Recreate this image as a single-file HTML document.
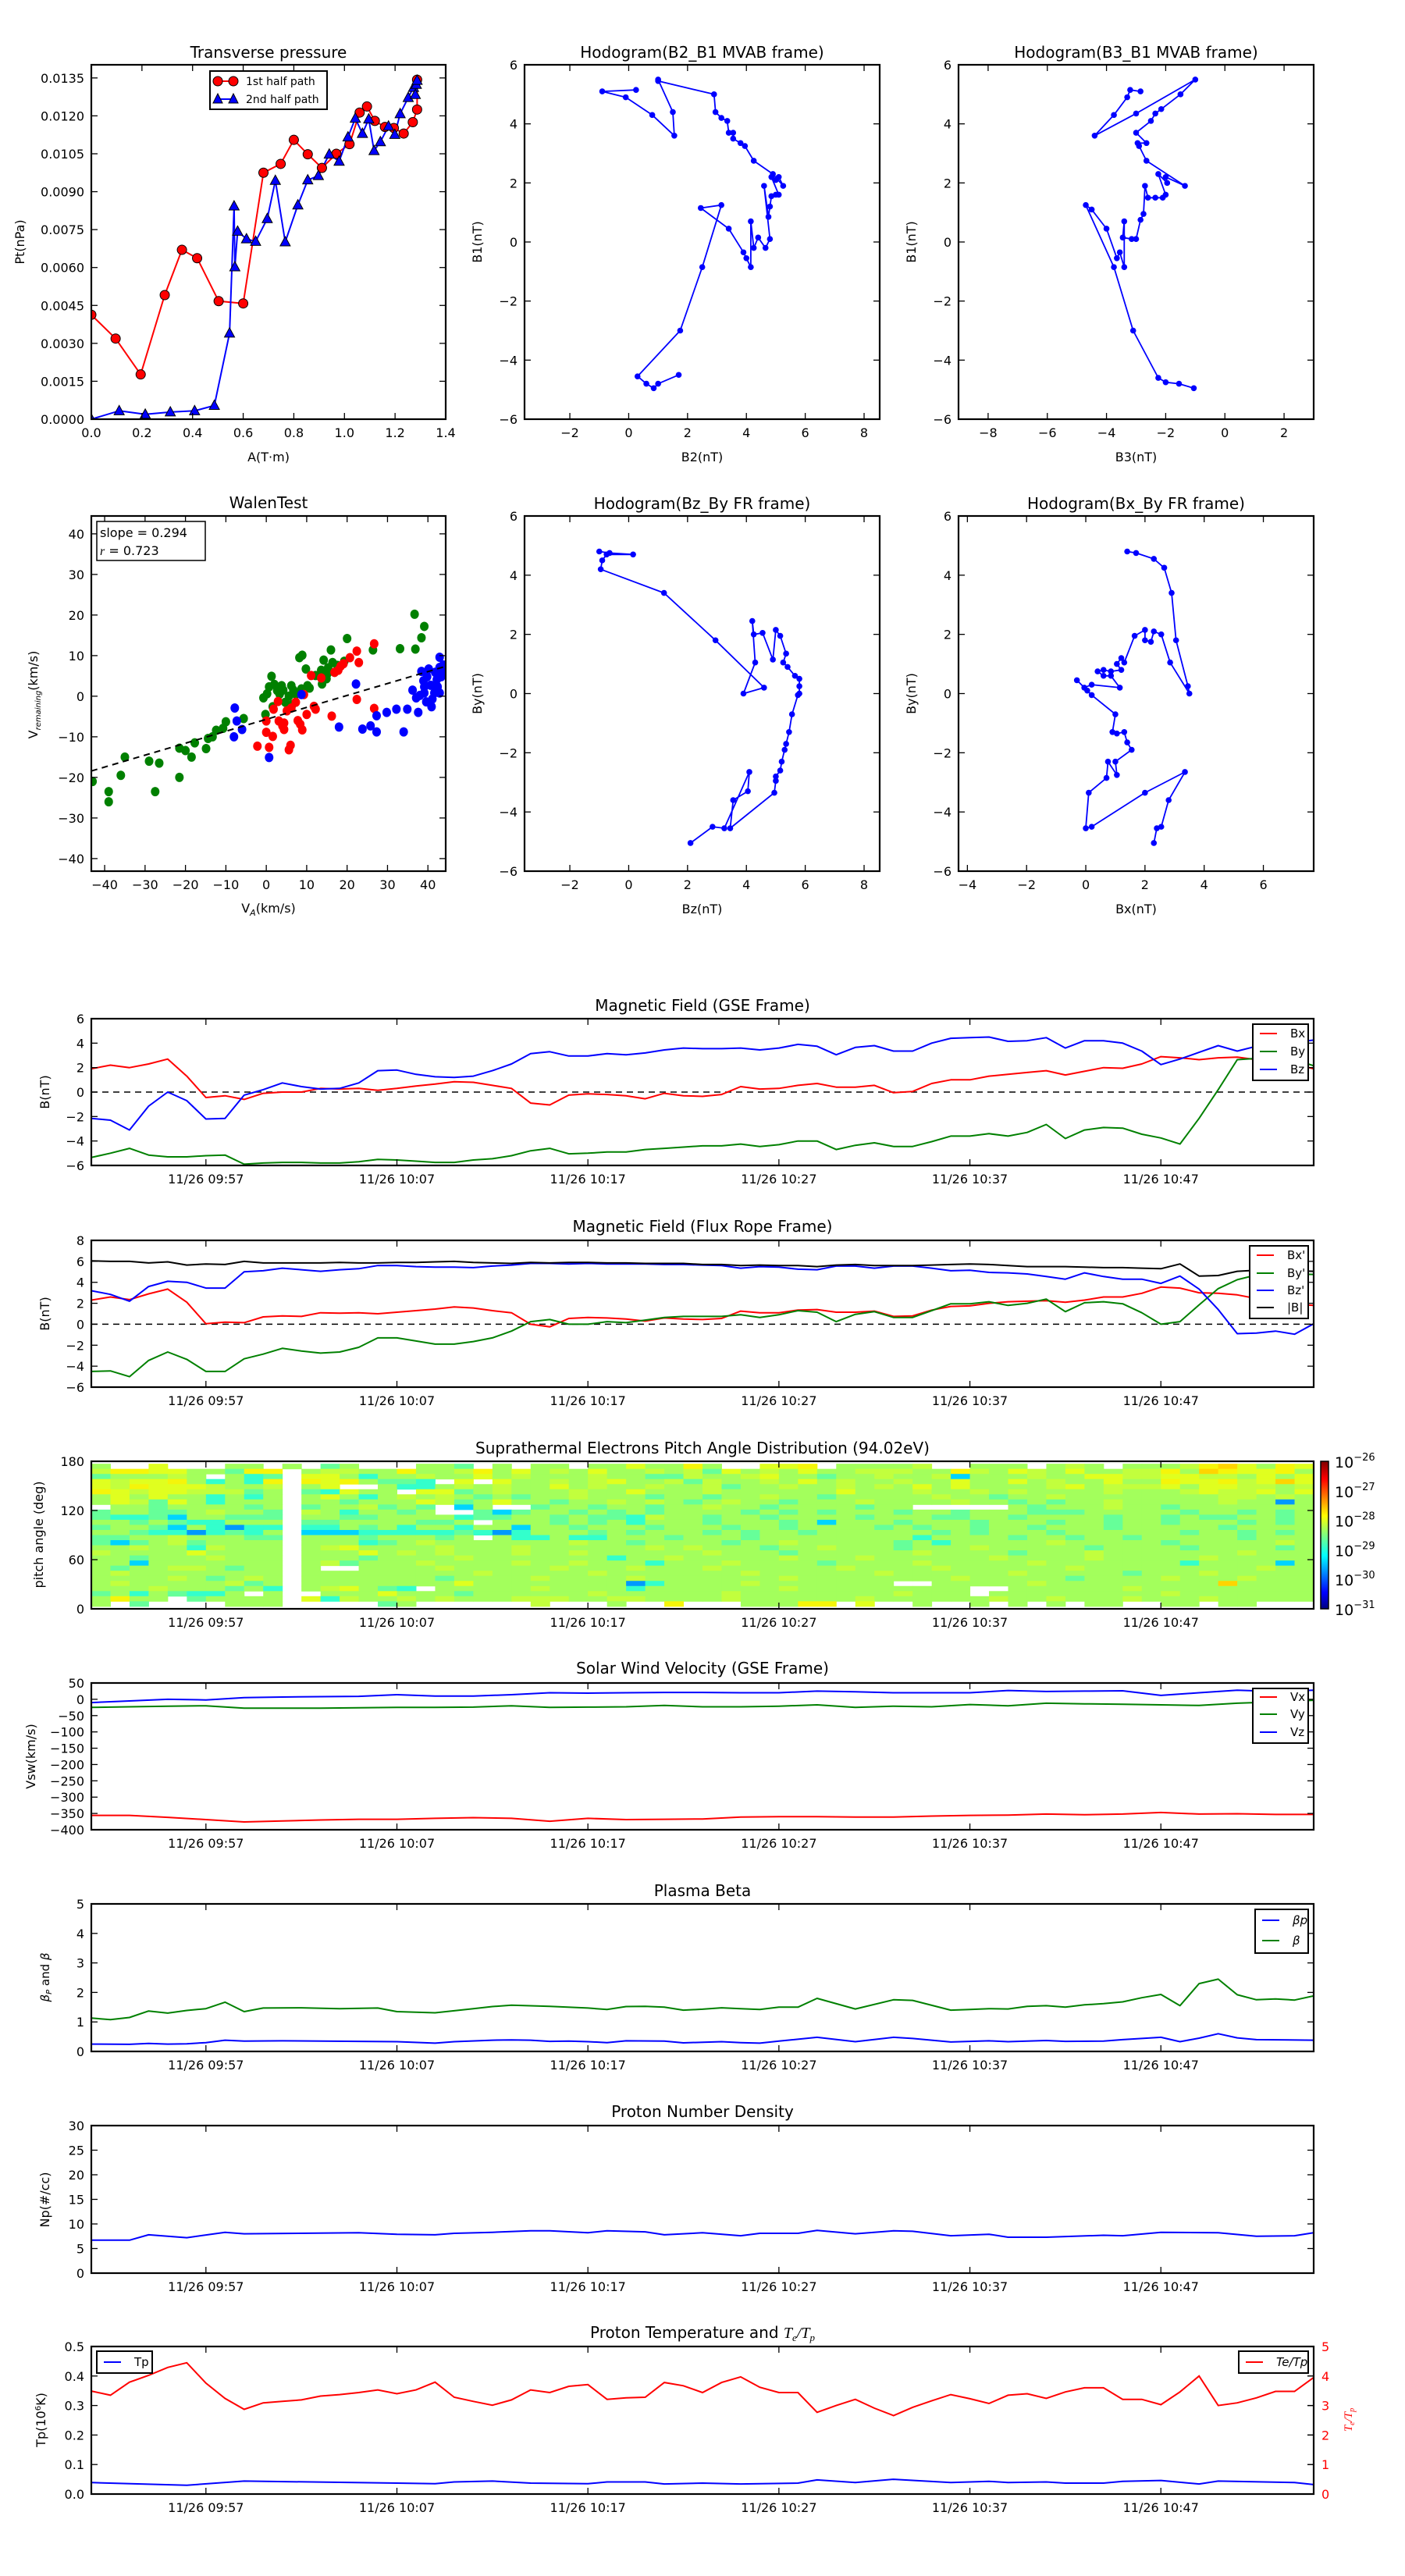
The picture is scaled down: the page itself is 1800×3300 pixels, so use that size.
<!DOCTYPE html>
<html><head><meta charset="utf-8">
<style>
html,body{margin:0;padding:0;background:#fff;}
svg{display:block;font-family:"DejaVu Sans","Liberation Sans",sans-serif;}
</style></head>
<body>
<svg id="fig" xmlns="http://www.w3.org/2000/svg" width="1800" height="3300" viewBox="0 0 1800 3300">
<rect x="0" y="0" width="1800" height="3300" fill="#fff"/>
</svg>
<script>
// ---------- data: transverse pressure ----------
const ptRedA=[0,0.096,0.195,0.29,0.358,0.418,0.503,0.6,0.68,0.748,0.8,0.855,0.911,0.968,1.02,1.06,1.089,1.12,1.16,1.195,1.234,1.27,1.287,1.287];
const ptRedP=[0.00413,0.00319,0.00177,0.00491,0.0067,0.00637,0.00467,0.00458,0.00975,0.0101,0.01105,0.01048,0.00994,0.0105,0.01088,0.01213,0.01237,0.0118,0.01156,0.01152,0.0113,0.01175,0.01225,0.01343];
const ptBlueA=[0,0.11,0.213,0.312,0.408,0.486,0.546,0.564,0.567,0.578,0.613,0.649,0.695,0.727,0.766,0.816,0.855,0.897,0.94,0.979,1.014,1.043,1.071,1.096,1.117,1.142,1.174,1.199,1.22,1.252,1.273,1.28,1.284,1.287];
const ptBlueP=[0,0.00033,0.00019,0.00028,0.00033,0.00054,0.0034,0.00843,0.00602,0.00743,0.00713,0.00703,0.00793,0.00944,0.00701,0.00847,0.00946,0.00963,0.01048,0.0102,0.01116,0.0119,0.0113,0.01187,0.01062,0.01097,0.01159,0.01126,0.01208,0.01272,0.01312,0.01284,0.01324,0.0134];
// ---------- hodograms ----------
const h1B2=[1.7,1.0,0.85,0.6,0.3,1.75,2.5,3.15,2.45,3.4,3.9,4.0,4.15,4.15,4.25,4.4,4.65,4.8,4.6,4.75,4.8,4.85,5.0,5.1,4.85,5.0,5.1,5.25,4.9,4.25,3.95,3.8,3.55,3.55,3.4,3.35,3.15,2.95,2.9,1.0,1.0,1.5,1.55,0.8,-0.1,-0.9,0.25];
const h1B1=[-4.5,-4.8,-4.95,-4.8,-4.55,-3.0,-0.85,1.25,1.15,0.45,-0.35,-0.55,-0.85,0.7,-0.2,0.15,-0.2,0.1,1.9,0.85,1.2,1.55,1.6,1.6,2.2,2.1,2.2,1.9,2.3,2.75,3.25,3.35,3.5,3.7,3.7,4.1,4.2,4.4,5.0,5.45,5.5,4.4,3.6,4.3,4.9,5.1,5.15];
const h2B3=[-1.05,-1.55,-2.0,-2.25,-3.1,-3.75,-4.7,-4.5,-4.0,-3.65,-3.55,-3.4,-3.4,-3.45,-3.15,-3.0,-2.85,-2.75,-2.7,-2.6,-2.35,-2.1,-2.0,-2.25,-1.95,-2.0,-1.35,-2.65,-2.9,-2.95,-2.65,-3.0,-2.5,-2.35,-2.15,-1.5,-1.0,-3.0,-4.4,-3.75,-3.3,-3.2,-2.85];
const h2B1=[-4.95,-4.8,-4.75,-4.6,-3.0,-0.85,1.25,1.1,0.45,-0.55,-0.35,-0.85,0.7,0.15,0.1,0.1,0.75,0.95,1.9,1.5,1.5,1.5,1.6,2.3,2.0,2.2,1.9,2.75,3.25,3.35,3.35,3.7,4.1,4.35,4.5,5.0,5.5,4.35,3.6,4.3,4.9,5.15,5.1];
const h3Bz=[-1.0,-0.65,0.15,-0.75,-0.9,-0.95,1.2,2.95,4.6,3.9,4.3,4.2,4.25,4.55,4.9,5.0,5.15,5.35,5.25,5.4,5.65,5.8,5.8,5.8,5.75,5.55,5.45,5.35,5.3,5.2,5.15,5.0,5.0,4.95,3.45,3.55,4.05,4.1,3.25,2.85,2.1];
const h3By=[4.8,4.75,4.7,4.7,4.5,4.2,3.4,1.8,0.2,0.0,1.05,2.45,2.0,2.05,1.15,2.15,1.95,1.35,1.05,0.9,0.6,0.5,0.25,0.0,-0.05,-0.7,-1.3,-1.7,-1.9,-2.3,-2.6,-2.8,-2.95,-3.35,-4.55,-3.6,-3.3,-2.65,-4.55,-4.5,-5.05];
const h4Bx=[1.4,1.7,2.3,2.65,2.9,3.05,3.45,3.5,2.85,2.55,2.3,2.2,2.0,2.0,1.65,1.3,1.2,1.05,1.2,0.85,0.6,0.4,0.6,0.85,1.15,0.2,-0.05,-0.3,0.05,0.2,1.0,0.9,1.05,1.3,1.4,1.55,1.0,1.05,0.75,0.7,0.1,0.0,0.2,2.0,3.35,2.8,2.55,2.4,2.3];
const h4By=[4.8,4.75,4.55,4.25,3.4,1.8,0.25,0.0,1.05,2.0,2.1,1.75,1.8,2.15,1.95,1.05,1.2,1.0,0.8,0.75,0.8,0.75,0.6,0.6,0.2,0.3,0.2,0.45,0.1,-0.05,-0.7,-1.3,-1.35,-1.3,-1.65,-1.9,-2.3,-2.75,-2.3,-2.85,-3.35,-4.55,-4.5,-3.35,-2.65,-3.6,-4.5,-4.55,-5.05];
// ---------- Walen test ----------
const wGreenX=[-43,-39,-39,-36,-35,-29,-26.5,-27.5,-21.5,-21.5,-20,-18.5,-17.7,-14.9,-14.4,-13.3,-12.4,-10.7,-10,-5.6,-0.7,-0.2,0.2,1.3,2,1.6,3.3,4.2,4.7,5.6,6.2,6.4,7.3,8.2,8.9,9.8,10.2,10.7,13.6,14.2,14.9,15.3,16,16.4,16.9,17.6,19.3,20,26.4,33.1,36.9,36.7,38.4,39.1,0.7,2.7,3.8,6.7,8.7,12.2,13.8,15.1];
const wGreenY=[-21,-23.5,-26,-19.5,-15,-16,-16.5,-23.5,-20,-12.8,-13.4,-15,-11.5,-12.9,-10.4,-10,-8.4,-7.9,-6.3,-5.5,-0.4,-4.5,0.6,4.9,2.9,-2.6,0.5,1.5,-1.5,0,2.6,-2.1,0.5,9.5,10.1,6.7,2.6,2.0,6.4,8.9,4.3,7,11.4,8.3,5.9,7.6,8.6,14.2,11.4,11.7,11.6,20.2,14.4,17.2,2.3,1.4,2.6,1.5,1.8,5.1,3,5.5];
const wRedX=[-2.2,0,0,0.7,1.6,3.1,4,4.4,4.4,5.1,5.6,6,6.2,7.3,7.8,8.4,8.9,9.3,10,11.1,11.8,12.2,13.6,16.2,16.9,17.8,18.4,19.1,20.7,22.4,22.9,22.4,26.7,26.7,2.9,1.8];
const wRedY=[-12.3,-6.1,-8.9,-12.6,-9.9,-6.1,-7.3,-8.2,-6.6,-3.6,-13.2,-12.1,-2.9,-1.5,-6,-6.9,-8.3,0.4,-4.5,5.1,-2.5,-3.2,4.5,-4.9,5.9,6.4,7.4,8,9.5,11.1,8.3,-0.8,12.9,-3,-1.3,-3.2];
const wBlueX=[-7.8,-7.3,-8,-6,0.7,8.7,18,22.2,23.8,25.8,27.3,27.3,29.8,32.2,34,34.9,36.2,37.6,38,39.1,38.4,39.8,40.9,41.6,42.4,42.9,43.3,43.8,38.9,40.2,41.8,42.9,39.1,40.7,42.2,43.6,41.1,39.6,37.1,42.9];
const wBlueY=[-2.9,-6.1,-10,-8.2,-15.1,0.4,-7.6,3,-8.1,-7.3,-8.8,-4.8,-4,-3.2,-8.8,-3.2,1.5,-4,0.2,0.8,6.1,4.8,-2.6,0.8,2.3,9.6,4.8,7.7,3.8,6.7,5.9,7.1,2.3,2.7,4.1,5.9,-0.7,-1.4,-0.4,0.8];
const walenFit=[0.294,-5.7];
const walenStats=["slope = 0.294","0.723"];
// ---------- time series (t = minutes after 09:51) ----------
const timeTicks=[6,16,26,36,46,56];
const timeLabels=["11/26 09:57","11/26 10:07","11/26 10:17","11/26 10:27","11/26 10:37","11/26 10:47"];
const gseBx=[1.9,2.2,2.0,2.3,2.7,1.3,-0.45,-0.3,-0.6,-0.1,0.0,0,0.3,0.25,0.3,0.15,0.3,0.5,0.65,0.85,0.8,0.55,0.3,-0.9,-1.05,-0.25,-0.15,-0.2,-0.3,-0.55,-0.1,-0.3,-0.35,-0.2,0.45,0.25,0.3,0.55,0.7,0.4,0.4,0.55,-0.05,0.05,0.7,1.0,1.0,1.3,1.45,1.6,1.75,1.4,1.7,2.0,1.95,2.3,2.9,2.8,2.65,2.8,2.85,2.65,2.55,2.3,1.9];
const gseBy=[-5.35,-5.0,-4.6,-5.15,-5.3,-5.3,-5.2,-5.15,-5.9,-5.8,-5.75,-5.75,-5.8,-5.8,-5.7,-5.5,-5.55,-5.65,-5.75,-5.75,-5.55,-5.45,-5.2,-4.8,-4.6,-5.05,-5.0,-4.9,-4.9,-4.7,-4.6,-4.5,-4.4,-4.4,-4.25,-4.45,-4.3,-4.0,-4.0,-4.7,-4.35,-4.15,-4.45,-4.45,-4.05,-3.6,-3.6,-3.4,-3.6,-3.3,-2.65,-3.8,-3.1,-2.9,-2.95,-3.45,-3.75,-4.25,-2.15,0.2,2.65,2.75,2.65,2.65,2.15];
const gseBz=[-2.15,-2.3,-3.1,-1.15,0,-0.7,-2.2,-2.15,-0.25,0.2,0.75,0.45,0.25,0.3,0.75,1.75,1.8,1.45,1.25,1.2,1.3,1.75,2.3,3.15,3.3,2.95,2.95,3.15,3.05,3.2,3.45,3.6,3.55,3.55,3.6,3.45,3.6,3.9,3.75,3.05,3.65,3.8,3.35,3.35,4.0,4.4,4.45,4.5,4.15,4.2,4.45,3.6,4.2,4.2,4.0,3.35,2.25,2.7,3.25,3.8,3.35,3.75,3.85,4.05,4.25];
const frBx=[2.3,2.6,2.35,2.9,3.35,2.1,0.05,0.2,0.15,0.7,0.8,0.75,1.1,1.05,1.1,1.0,1.15,1.3,1.45,1.65,1.55,1.3,1.1,0,-0.25,0.55,0.65,0.6,0.5,0.3,0.6,0.5,0.45,0.55,1.25,1.1,1.1,1.35,1.4,1.15,1.15,1.25,0.75,0.8,1.35,1.7,1.75,2.0,2.15,2.2,2.25,2.1,2.3,2.6,2.6,2.95,3.55,3.45,3.0,2.95,2.8,2.45,2.1,1.9,1.8];
const frBy=[-4.5,-4.45,-5.0,-3.45,-2.65,-3.35,-4.5,-4.5,-3.3,-2.85,-2.3,-2.55,-2.75,-2.65,-2.2,-1.3,-1.3,-1.6,-1.9,-1.9,-1.65,-1.3,-0.65,0.25,0.45,0,0,0.25,0.15,0.4,0.65,0.75,0.75,0.75,0.9,0.65,0.9,1.3,1.15,0.25,0.95,1.2,0.65,0.65,1.3,1.95,1.95,2.15,1.8,2.0,2.4,1.2,2.05,2.15,1.95,1.1,0,0.25,1.85,3.4,4.25,4.7,4.8,4.8,4.75];
const frBz=[3.2,2.85,2.2,3.6,4.1,4.0,3.45,3.45,5.0,5.1,5.35,5.2,5.05,5.2,5.3,5.6,5.6,5.5,5.45,5.45,5.4,5.55,5.65,5.8,5.8,5.75,5.8,5.75,5.75,5.75,5.7,5.7,5.65,5.6,5.35,5.5,5.45,5.25,5.2,5.55,5.55,5.35,5.55,5.55,5.35,5.1,5.15,4.95,4.9,4.8,4.55,4.3,4.9,4.55,4.3,4.3,3.9,4.6,3.35,1.4,-0.9,-0.85,-0.65,-0.95,0.05];
const frBt=[6.05,6.0,6.0,5.85,5.95,5.65,5.75,5.7,6.0,5.85,5.85,5.85,5.85,5.9,5.85,5.85,5.9,5.9,5.95,6.0,5.9,5.85,5.8,5.9,5.85,5.9,5.9,5.85,5.85,5.8,5.8,5.8,5.7,5.7,5.6,5.65,5.6,5.6,5.5,5.65,5.7,5.6,5.6,5.6,5.65,5.7,5.75,5.7,5.6,5.5,5.5,5.5,5.45,5.4,5.4,5.35,5.3,5.75,4.6,4.65,5.05,5.15,5.1,5.1,5.05];
const vT=[0,2,4,6,8,10,12,14,16,18,20,22,24,26,28,30,32,34,36,38,40,42,44,46,48,50,52,54,56,58,60,62,64];
const vVx=[-356,-356,-362,-369,-376,-373,-370,-368,-368,-365,-363,-365,-374,-365,-369,-368,-367,-361,-360,-360,-361,-361,-358,-356,-355,-352,-354,-352,-347,-352,-351,-353,-353];
const vVy=[-25,-23,-21,-20,-27,-27,-27,-26,-25,-25,-24,-20,-25,-24,-23,-19,-23,-23,-21,-17,-25,-21,-23,-16,-20,-12,-14,-15,-17,-19,-12,-8,-3];
const vVz=[-10,-5,0,-2,5,7,8,9,14,10,10,14,20,19,20,21,21,20,20,25,23,20,20,20,27,24,25,26,12,20,28,24,28];
const betaT=[0,1,2,3,4,5,6,7,8,9,11,13,15,16,18,20,21,22,24,26,27,28,29,30,31,32,33,34,35,36,37,38,40,42,43,45,46,47,48,49,50,51,52,53,54,55,56,57,58,59,60,61,62,63,64];
const betaV=[1.13,1.08,1.15,1.37,1.3,1.39,1.45,1.67,1.35,1.47,1.48,1.45,1.47,1.35,1.31,1.45,1.52,1.57,1.53,1.47,1.42,1.52,1.53,1.5,1.4,1.43,1.48,1.45,1.42,1.5,1.5,1.8,1.44,1.75,1.73,1.4,1.42,1.45,1.44,1.53,1.55,1.5,1.58,1.62,1.68,1.82,1.93,1.55,2.3,2.45,1.92,1.75,1.78,1.74,1.88];
const betapT=[0,2,3,4,5,6,7,8,10,14,16,18,19,21,22,23,24,25,26,27,28,30,31,33,34,35,36,38,40,42,43,45,46,47,48,50,51,53,54,56,57,58,59,60,61,64];
const betapV=[0.25,0.24,0.27,0.25,0.26,0.3,0.38,0.35,0.36,0.34,0.33,0.28,0.33,0.38,0.39,0.38,0.34,0.35,0.33,0.3,0.36,0.35,0.29,0.33,0.3,0.28,0.35,0.48,0.33,0.48,0.44,0.32,0.34,0.36,0.33,0.37,0.34,0.35,0.4,0.48,0.33,0.45,0.6,0.46,0.4,0.38];
const npT=[0,2,3,5,7,8,14,16,18,19,21,23,24,26,27,29,30,32,34,35,37,38,40,42,43,45,47,48,50,53,54,56,59,61,63,64];
const npV=[6.7,6.7,7.8,7.2,8.3,8.0,8.2,7.9,7.8,8.1,8.3,8.6,8.6,8.2,8.6,8.4,7.8,8.2,7.6,8.1,8.1,8.7,8.0,8.6,8.5,7.6,7.9,7.3,7.3,7.7,7.6,8.3,8.2,7.5,7.6,8.2];
const tpT=[0,5,8,16,18,19,21,23,26,27,29,30,32,34,37,38,40,42,45,47,48,50,51,53,54,56,58,59,63,64];
const tpV=[0.039,0.030,0.044,0.037,0.035,0.041,0.044,0.037,0.035,0.041,0.041,0.034,0.037,0.034,0.037,0.048,0.039,0.050,0.039,0.043,0.039,0.041,0.037,0.037,0.043,0.046,0.034,0.044,0.039,0.032];
const teTp=[3.49,3.35,3.79,4.02,4.29,4.45,3.76,3.24,2.87,3.09,3.14,3.19,3.32,3.37,3.44,3.53,3.40,3.53,3.79,3.28,3.14,3.01,3.19,3.53,3.44,3.65,3.71,3.21,3.26,3.28,3.78,3.67,3.44,3.78,3.97,3.62,3.44,3.44,2.77,3.0,3.21,2.91,2.66,2.94,3.16,3.37,3.23,3.07,3.35,3.40,3.24,3.46,3.60,3.60,3.21,3.21,3.03,3.46,4.0,3.0,3.09,3.26,3.48,3.48,3.95];
// ---------- PAD heatmap: rows from 177deg down to 3deg, one char per minute ----------
const padRows=[
"b..d...bb.b.ab...bba.b.bb.bbdbbeb..dde.bbbbc..bbb.bcb.bbbcefdbed",
"ceeddbbaee.bccbbebbcebdbcbdbbcbcadbcbdbbcccbbecbdcbdbbccebfeddeb",
"abbbcb.bha.ddbhbbcbbdbcbbbcbbaacbbcdbbabbcbbcibbbcbbddccddccbdbd",
"dcddebhbhe.edebaah.d.dbbcbcdbbcacbbcbdbcbbcbbdbbdbcbbdbbeddecdfd",
"dcedddcbbc.bd..bhhbcbcbbdbcbbcbbcabbcbbcbcbdbdbbbbcdbcccdbddccbc",
"edcddcccab.ahdbb.ddabcbbbcbbdbbbcbbbbbbdbbbcbbcbcbbbbcbbbcdccdbd",
"bdbdbbhbhb.bdbhbcbcbababbcbbbabbabbcbbabbbbbcbbabbcbbbbbbbbccbcb",
"bdcadbhbbb.bbabbbdcabdbbabbcbcbabcbbabbbcbbbbcbbababbcbbbbbcbbjb",
".bbabbbbab.abbcaba.ib..abbabbabbcbbabbbbabb.....babbbcbbabbbbbbb",
"abbaabcbba.cbhbbab..aiabbabababbbbabababbbabbabbbaaabbbbbabbabab",
"ahhaibbaaa.bbaabbbbhaabbabaahcbbabbabbbbabbbaabbabbbbabbabaabbab",
"bbabahhbbb.aabbbbaab.bbbababhbbbabbbabibbbabbbabbbabbabbabbbabab",
"abbaibhjhh.hhbabhbbhbbibbabbbabbbabbabbbbababbabbabbbabbbbbabbbb",
"bbahhjhahb.iiihhhhhahjhbbbababbbababbabbbbbbababbbabbbbbbabbabab",
"aabbcbbbaa.bbbabbbab.bhhbhhbbbabbbabbbbbbbbhbbbbabbabbabbbbbabbb",
"aiabcabbbb.bbbhabcbbbbbbbcbbabbbbabbcbbbbbabhbbbbbcbbbbbabbbbbcb",
"bbcbbhcbbb.bcdbbbbcbbbcbbbbbbcbcbbbabbcbbbabbbcbbbbbabbbbabbbbab",
"cbbbbdbbbb.bbbdbcbcbbbcbbcbbbbbbcbbbabbbbbbcbbbbabbbcbbbbbbbcbbb",
"bbabbbcbbb.bbbabbbbcbbbbbbbhbbcbbbbbcbbbcbbbbbbcbbbbcbbbbbcbbbbb",
"bbibbbbbbb.bcabbbcbbbbcbbcbbbhbbbcbbbbabbbbcbbbbbcbbbbbbbhbbbbib",
"babbccbabb.b..bbbbcbbbbbcbbbcbbbcbbbbbbcbbbbcbbbbbbcbbbbbbbbbcbb",
"bcbbbbbbbb.bbbbbbbbbcbbbbbcbbbbbbbcbbbbbbcbbbbbbcbbbbbabbbcbbbbb",
"bbbbcbabcb.bbbbbbbabbbbcbbbbcbbbbbbbcbbbbbbbbcbbbbbabbbbcbbbcbbb",
"bcbbbbbcab.bbbbbbbbdbbbbbbbbjhbbbbcbbbbbbb..bbbbbcbbbbbbbbbfbbbb",
"bbbcbbbabh.bcdbah.bbbbbcbbbbhbbbbbbbcbbbbbbbbb..bbbbbbcbbbbbbbbb",
"abhbahhb.b..bbbdbbbabbbbbbcbbbbbbcbbbbbbbbcbbb.bbbbbbbbbcbbbbbbb",
"bebb.abbbb.dhcbbcbcbbbcccbbccbbbbcbbbbbbcbbbbbbcbbcbbbcbbbcbbbbb",
"b.a....bbb.....ab......c...b..e...bbbee.d..b..b.b.b.bb..bb.bb..."
];
const padColors={a:"#66ff99",b:"#a3ff5c",c:"#c2ff3d",d:"#e0ff1f",e:"#f5f50a",f:"#ffd400",g:"#ffb000",h:"#33ffcc",i:"#00d4ff",j:"#0099ff"};

const NS="http://www.w3.org/2000/svg";
const svg=document.getElementById("fig");
let clipN=0;
function mk(tag,a,name,parent){
  const e=document.createElementNS(NS,tag);
  for(const k in a) e.setAttribute(k,a[k]);
  
  
  (parent||svg).appendChild(e);
  return e;
}
function txt(x,y,s,size,anchor,name,parent,extra){
  const a={x:x,y:y,"font-size":size,"text-anchor":anchor||"middle",fill:"#000"};
  if(extra) for(const k in extra) a[k]=extra[k];
  const t=mk("text",a,name,parent);
  t.textContent=s;
  return t;
}
function fmtNum(v,d){const s=v.toFixed(d);return s.replace("-","\u2212");}
function axes(o){
  const g=mk("g",{},o.name);
  const X=v=>o.x0+(v-o.xd[0])/(o.xd[1]-o.xd[0])*(o.x1-o.x0);
  const Y=v=>o.y1-(v-o.yd[0])/(o.yd[1]-o.yd[0])*(o.y1-o.y0);
  clipN++;
  const cp=mk("clipPath",{id:"cp"+clipN},"clip-region",g);
  mk("rect",{x:o.x0,y:o.y0,width:o.x1-o.x0,height:o.y1-o.y0},"clip-rect",cp);
  const plot=mk("g",{"clip-path":"url(#cp"+clipN+")"},"plot-area",g);
  const tg=mk("g",{stroke:"#000","stroke-width":1.3},"ticks",g);
  o.xt.forEach((v,i)=>{
    const x=X(v);
    mk("line",{x1:x,x2:x,y1:o.y1,y2:o.y1-8},"x-tick",tg);
    mk("line",{x1:x,x2:x,y1:o.y0,y2:o.y0+8},"x-tick-top",tg);
    txt(x,o.y1+23,o.xl[i],16,"middle","x-tick-label",g);
  });
  o.yt.forEach((v,i)=>{
    const y=Y(v);
    mk("line",{x1:o.x0,x2:o.x0+8,y1:y,y2:y},"y-tick",tg);
    if(!o.noRightTicks) mk("line",{x1:o.x1,x2:o.x1-8,y1:y,y2:y},"y-tick-right",tg);
    txt(o.x0-9,y+6,o.yl[i],16,"end","y-tick-label",g);
  });
  const fr=mk("rect",{x:o.x0,y:o.y0,width:o.x1-o.x0,height:o.y1-o.y0,fill:"none",stroke:"#000","stroke-width":2.2},"axes-frame",g);
  return {X,Y,g,plot,frame:fr,o};
}
function poly(ax,xs,ys,color,name,w,dash){
  const pts=xs.map((x,i)=>ax.X(x).toFixed(1)+","+ax.Y(ys[i]).toFixed(1)).join(" ");
  const a={points:pts,fill:"none",stroke:color,"stroke-width":w||2,"stroke-linejoin":"round"};
  if(dash) a["stroke-dasharray"]=dash;
  return mk("polyline",a,name,ax.plot);
}
function idx(arr){return arr.map((v,i)=>i);}
function title(x,y,s,name){return txt(x,y,s,20,"middle",name);}
function ylab(x,y,s,name,size){return txt(x,y,s,size||16,"middle",name,null,{transform:"rotate(-90 "+x+" "+y+")"});}
function range(a,b,s){const r=[];for(let v=a;v<=b+1e-9;v+=s)r.push(+v.toFixed(6));return r;}
function legendBox(x0,y0,x1,y1,entries,name){
  const g=mk("g",{},name);
  mk("rect",{x:x0,y:y0,width:x1-x0,height:y1-y0,fill:"#fff",stroke:"#000","stroke-width":2},"legend-frame",g);
  entries.forEach(e=>{
    mk("line",{x1:x0+9,x2:x0+31,y1:e.y,y2:e.y,stroke:e.c,"stroke-width":2},"legend-line",g);
    const t=txt(x0+48,e.y+5,e.s,15,"start","legend-label",g);
    if(e.italic) t.setAttribute("font-style","italic");
  });
  return g;
}

// ===== Transverse pressure =====
(function(){
  const ax=axes({name:"transverse-pressure-panel",x0:117,y0:83,x1:571,y1:537,xd:[0,1.4],yd:[0,0.01402],
    xt:range(0,1.4,0.2),xl:range(0,1.4,0.2).map(v=>v.toFixed(1)),
    yt:range(0,0.0135,0.0015),yl:range(0,0.0135,0.0015).map(v=>v.toFixed(4))});
  poly(ax,ptRedA,ptRedP,"#ff0000","first-half-line",2);
  poly(ax,ptBlueA,ptBlueP,"#0000ff","second-half-line",2);
  ptRedA.forEach((a,i)=>{mk("circle",{cx:ax.X(a),cy:ax.Y(ptRedP[i]),r:6,fill:"#ff0000",stroke:"#000","stroke-width":1},"first-half-marker",ax.plot);});
  ptBlueA.forEach((a,i)=>{const x=ax.X(a),y=ax.Y(ptBlueP[i]);
    mk("polygon",{points:`${x},${y-7} ${x-6.5},${y+5} ${x+6.5},${y+5}`,fill:"#0000ff",stroke:"#000","stroke-width":1},"second-half-marker",ax.plot);});
  svg.appendChild(ax.frame);
  title(344,74,"Transverse pressure","pressure-title");
  txt(344,591,"A(T·m)",16,"middle","pressure-x-label");
  ylab(31,310,"Pt(nPa)","pressure-y-label");
  const lg=mk("g",{},"pressure-legend");
  mk("rect",{x:269,y:91,width:150,height:49,fill:"#fff",stroke:"#000","stroke-width":2},"legend-frame",lg);
  mk("line",{x1:279,x2:299,y1:104,y2:104,stroke:"#f00","stroke-width":2},"legend-line",lg);
  mk("circle",{cx:279,cy:104,r:6,fill:"#f00",stroke:"#000"},"legend-marker",lg);
  mk("circle",{cx:299,cy:104,r:6,fill:"#f00",stroke:"#000"},"legend-marker",lg);
  mk("line",{x1:279,x2:299,y1:127,y2:127,stroke:"#00f","stroke-width":2},"legend-line",lg);
  mk("polygon",{points:"279,120 273,132 285,132",fill:"#00f",stroke:"#000"},"legend-marker",lg);
  mk("polygon",{points:"299,120 293,132 305,132",fill:"#00f",stroke:"#000"},"legend-marker",lg);
  txt(315,109,"1st half path",14,"start","legend-label",lg);
  txt(315,132,"2nd half path",14,"start","legend-label",lg);
})();

// ===== Hodograms =====
function hodo(cfg){
  const ax=axes({name:cfg.name,x0:cfg.x0,y0:cfg.y0,x1:cfg.x1,y1:cfg.y1,xd:cfg.xd,yd:[-6,6],
    xt:cfg.xt,xl:cfg.xt.map(v=>fmtNum(v,0)),yt:range(-6,6,2),yl:range(-6,6,2).map(v=>fmtNum(v,0))});
  poly(ax,cfg.xs,cfg.ys,"#0000ff",cfg.name+"-path",1.8);
  cfg.xs.forEach((x,i)=>{mk("circle",{cx:ax.X(x),cy:ax.Y(cfg.ys[i]),r:3.8,fill:"#0000ff"},"hodogram-point",ax.plot);});
  title((cfg.x0+cfg.x1)/2,cfg.y0-9,cfg.title,cfg.name+"-title");
  txt((cfg.x0+cfg.x1)/2,cfg.y1+54,cfg.xlab,16,"middle",cfg.name+"-x-label");
  ylab(cfg.x0-55,(cfg.y0+cfg.y1)/2,cfg.ylab,cfg.name+"-y-label");
}
hodo({name:"hodogram-b2-b1",x0:672,y0:83,x1:1127,y1:537,xd:[-3.54,8.53],xt:[-2,0,2,4,6,8],xs:h1B2,ys:h1B1,title:"Hodogram(B2_B1 MVAB frame)",xlab:"B2(nT)",ylab:"B1(nT)"});
hodo({name:"hodogram-b3-b1",x0:1228,y0:83,x1:1683,y1:537,xd:[-9,3],xt:[-8,-6,-4,-2,0,2],xs:h2B3,ys:h2B1,title:"Hodogram(B3_B1 MVAB frame)",xlab:"B3(nT)",ylab:"B1(nT)"});
hodo({name:"hodogram-bz-by",x0:672,y0:661,x1:1127,y1:1116,xd:[-3.54,8.53],xt:[-2,0,2,4,6,8],xs:h3Bz,ys:h3By,title:"Hodogram(Bz_By FR frame)",xlab:"Bz(nT)",ylab:"By(nT)"});
hodo({name:"hodogram-bx-by",x0:1228,y0:661,x1:1683,y1:1116,xd:[-4.3,7.7],xt:[-4,-2,0,2,4,6],xs:h4Bx,ys:h4By,title:"Hodogram(Bx_By FR frame)",xlab:"Bx(nT)",ylab:"By(nT)"});

// ===== Walen test =====
(function(){
  const ax=axes({name:"walen-test-panel",x0:117,y0:661,x1:571,y1:1116,xd:[-43.3,44.4],yd:[-43.1,44.4],
    xt:range(-40,40,10),xl:range(-40,40,10).map(v=>fmtNum(v,0)),yt:range(-40,40,10),yl:range(-40,40,10).map(v=>fmtNum(v,0))});
  const dot=(xs,ys,c,n)=>xs.forEach((x,i)=>{mk("ellipse",{cx:ax.X(x),cy:ax.Y(ys[i]),rx:5.5,ry:6,fill:c},n,ax.plot);});
  dot(wGreenX,wGreenY,"#008000","walen-green-point");
  dot(wRedX,wRedY,"#ff0000","walen-red-point");
  dot(wBlueX,wBlueY,"#0000ff","walen-blue-point");
  const xs=[-43.3,44.4];
  poly(ax,xs,xs.map(x=>walenFit[0]*x+walenFit[1]),"#000","walen-fit-line",2,"8,6");
  svg.appendChild(ax.frame);
  const bx=mk("g",{},"walen-stats-box");
  mk("rect",{x:124,y:668,width:139,height:50,fill:"#fff",stroke:"#000","stroke-width":1.5},"stats-frame",bx);
  txt(128,688,walenStats[0],16,"start","slope-text",bx);
  const t=txt(128,711,"",16,"start","r-text",bx);
  t.innerHTML='<tspan font-style="italic" font-family="Liberation Serif,serif">r</tspan> = '+walenStats[1];
  title(344,651,"WalenTest","walen-title");
  const xl=txt(344,1169,"",16,"middle","walen-x-label");
  xl.innerHTML='V<tspan font-size="11" dy="4" font-style="italic">A</tspan><tspan dy="-4">(km/s)</tspan>';
  const yl=txt(48,890,"",16,"middle","walen-y-label",null,{transform:"rotate(-90 48 890)"});
  yl.innerHTML='V<tspan font-size="10" dy="4" font-style="italic">remaining</tspan><tspan dy="-4">(km/s)</tspan>';
})();

// ===== time series panels =====
function tpanel(name,y0,y1,yd,yt,ylabels){
  return axes({name:name,x0:117,y0:y0,x1:1683,y1:y1,xd:[0,64],yd:yd,xt:timeTicks,xl:timeLabels,yt:yt,yl:ylabels});
}
// GSE
(function(){
  const yt=range(-6,6,2);
  const ax=tpanel("magnetic-field-gse-panel",1305,1493,[-6,6],yt,yt.map(v=>fmtNum(v,0)));
  poly(ax,[0,64],[0,0],"#000","zero-line",1.5,"8,6");
  poly(ax,idx(gseBx),gseBx,"#ff0000","bx-line");
  poly(ax,idx(gseBy),gseBy,"#008000","by-line");
  poly(ax,idx(gseBz),gseBz,"#0000ff","bz-line");
  svg.appendChild(ax.frame);
  title(900,1295,"Magnetic Field (GSE Frame)","gse-title");
  ylab(63,1399,"B(nT)","gse-y-label");
  legendBox(1605,1312,1676,1384,[{y:1324,c:"#f00",s:"Bx"},{y:1347,c:"#008000",s:"By"},{y:1370,c:"#00f",s:"Bz"}],"gse-legend");
})();
// FR
(function(){
  const yt=range(-6,8,2);
  const ax=tpanel("magnetic-field-fr-panel",1589,1777,[-6,8],yt,yt.map(v=>fmtNum(v,0)));
  poly(ax,[0,64],[0,0],"#000","zero-line",1.5,"8,6");
  poly(ax,idx(frBx),frBx,"#ff0000","bx-prime-line");
  poly(ax,idx(frBy),frBy,"#008000","by-prime-line");
  poly(ax,idx(frBz),frBz,"#0000ff","bz-prime-line");
  poly(ax,idx(frBt),frBt,"#000000","b-total-line");
  svg.appendChild(ax.frame);
  title(900,1578,"Magnetic Field (Flux Rope Frame)","fr-title");
  ylab(63,1683,"B(nT)","fr-y-label");
  legendBox(1601,1596,1676,1689,[{y:1608,c:"#f00",s:"Bx'"},{y:1631,c:"#008000",s:"By'"},{y:1653,c:"#00f",s:"Bz'"},{y:1675,c:"#000",s:"|B|"}],"fr-legend");
})();
// PAD
(function(){
  const yt=[0,60,120,180];
  const ax=tpanel("pitch-angle-panel",1872,2061,[0,180],yt,yt.map(v=>String(v)));
  const nR=padRows.length, dp=174/nR;
  padRows.forEach((row,r)=>{
    const pHi=177-r*dp, pLo=pHi-dp;
    for(let c=0;c<row.length;c++){
      const k=row[c]; if(!padColors[k]) continue;
      mk("rect",{x:ax.X(c),y:ax.Y(pHi),width:ax.X(c+1)-ax.X(c)+0.5,height:ax.Y(pLo)-ax.Y(pHi)+0.5,fill:padColors[k]},"pad-cell",ax.plot);
    }
  });
  svg.appendChild(ax.frame);
  title(900,1862,"Suprathermal Electrons Pitch Angle Distribution (94.02eV)","pad-title");
  ylab(55,1966,"pitch angle (deg)","pad-y-label");
  const defs=mk("defs",{},"defs");
  const lg=mk("linearGradient",{id:"jet",x1:0,y1:1,x2:0,y2:0},"jet-gradient",defs);
  [["0","#00007f"],["0.11","#0000ff"],["0.36","#00ffff"],["0.5","#7fff7f"],["0.63","#ffff00"],["0.88","#ff0000"],["1","#7f0000"]].forEach(s=>{
    mk("stop",{offset:s[0],"stop-color":s[1]},"gradient-stop",lg);});
  mk("rect",{x:1692,y:1872,width:10,height:189,fill:"url(#jet)",stroke:"#000","stroke-width":1.5},"colorbar");
  for(let i=0;i<6;i++){
    const y=2061-i*189/5;
    const t=txt(1710,y+8,"",19,"start","colorbar-label");
    t.innerHTML='10<tspan font-size="13" dy="-9">\u2212'+(31-i)+'</tspan>';
  }
})();
// Solar wind
(function(){
  const yt=range(-400,50,50);
  const ax=tpanel("solar-wind-panel",2156,2344,[-400,50],yt,yt.map(v=>fmtNum(v,0)));
  poly(ax,vT,vVx,"#ff0000","vx-line");
  poly(ax,vT,vVy,"#008000","vy-line");
  poly(ax,vT,vVz,"#0000ff","vz-line");
  svg.appendChild(ax.frame);
  title(900,2144,"Solar Wind Velocity (GSE Frame)","solar-wind-title");
  ylab(45,2250,"Vsw(km/s)","solar-wind-y-label");
  legendBox(1605,2163,1676,2233,[{y:2174,c:"#f00",s:"Vx"},{y:2196,c:"#008000",s:"Vy"},{y:2219,c:"#00f",s:"Vz"}],"solar-wind-legend");
})();
// Beta
(function(){
  const yt=range(0,5,1);
  const ax=tpanel("plasma-beta-panel",2439,2628,[0,5],yt,yt.map(v=>String(v)));
  poly(ax,betaT,betaV,"#008000","beta-line");
  poly(ax,betapT,betapV,"#0000ff","beta-p-line");
  svg.appendChild(ax.frame);
  title(900,2429,"Plasma Beta","beta-title");
  const yl=txt(63,2533,"",15,"middle","beta-y-label",null,{transform:"rotate(-90 63 2533)"});
  yl.innerHTML='<tspan font-style="italic">β</tspan><tspan font-size="10" dy="3" font-style="italic">P</tspan><tspan dy="-3"> and </tspan><tspan font-style="italic">β</tspan>';
  legendBox(1608,2446,1676,2502,[{y:2460,c:"#00f",s:"βp",italic:true},{y:2486,c:"#008000",s:"β",italic:true}],"beta-legend");
})();
// Density
(function(){
  const yt=range(0,30,5);
  const ax=tpanel("proton-density-panel",2723,2912,[0,30],yt,yt.map(v=>String(v)));
  poly(ax,npT,npV,"#0000ff","density-line");
  svg.appendChild(ax.frame);
  title(900,2712,"Proton Number Density","density-title");
  ylab(63,2818,"Np(#/cc)","density-y-label");
})();
// Temperature
(function(){
  const yt=range(0,0.5,0.1);
  const ax=tpanel("proton-temperature-panel",3006,3195,[0,0.5],yt,yt.map(v=>v.toFixed(1)));
  const Y2=v=>3195-v/5*189;
  const pts=teTp.map((v,i)=>ax.X(i).toFixed(1)+","+Y2(v).toFixed(1)).join(" ");
  mk("polyline",{points:pts,fill:"none",stroke:"#ff0000","stroke-width":2},"te-tp-line",ax.plot);
  poly(ax,tpT,tpV,"#0000ff","tp-line");
  svg.appendChild(ax.frame);
  for(let v=0;v<=5;v++){
    mk("line",{x1:1683,x2:1675,y1:Y2(v),y2:Y2(v),stroke:"#000","stroke-width":1.3},"right-y-tick");
    txt(1693,Y2(v)+6,String(v),16,"start","right-y-tick-label",null,{fill:"#ff0000"});
  }
  const tt=txt(900,2995,"",20,"middle","temperature-title");
  tt.innerHTML='Proton Temperature and <tspan font-family="Liberation Serif,serif" font-style="italic">T<tspan font-size="13" dy="4">e</tspan><tspan dy="-4">/T</tspan><tspan font-size="13" dy="4">p</tspan></tspan>';
  const yl=txt(58,3100,"",16,"middle","temperature-y-label",null,{transform:"rotate(-90 58 3100)"});
  yl.innerHTML='Tp(10<tspan font-size="10" dy="-6">6</tspan><tspan dy="6">K)</tspan>';
  const yr=txt(1732,3100,"",15,"middle","te-tp-y-label",null,{transform:"rotate(-90 1732 3100)",fill:"#ff0000","font-style":"italic","font-family":"Liberation Serif,serif"});
  yr.innerHTML='T<tspan font-size="10" dy="3">e</tspan><tspan dy="-3">/T</tspan><tspan font-size="10" dy="3">p</tspan>';
  legendBox(124,3012,195,3040,[{y:3026,c:"#00f",s:"Tp"}],"tp-legend");
  legendBox(1587,3012,1676,3040,[{y:3026,c:"#f00",s:"Te/Tp",italic:true}],"te-tp-legend");
})();
</script>
</body></html>
